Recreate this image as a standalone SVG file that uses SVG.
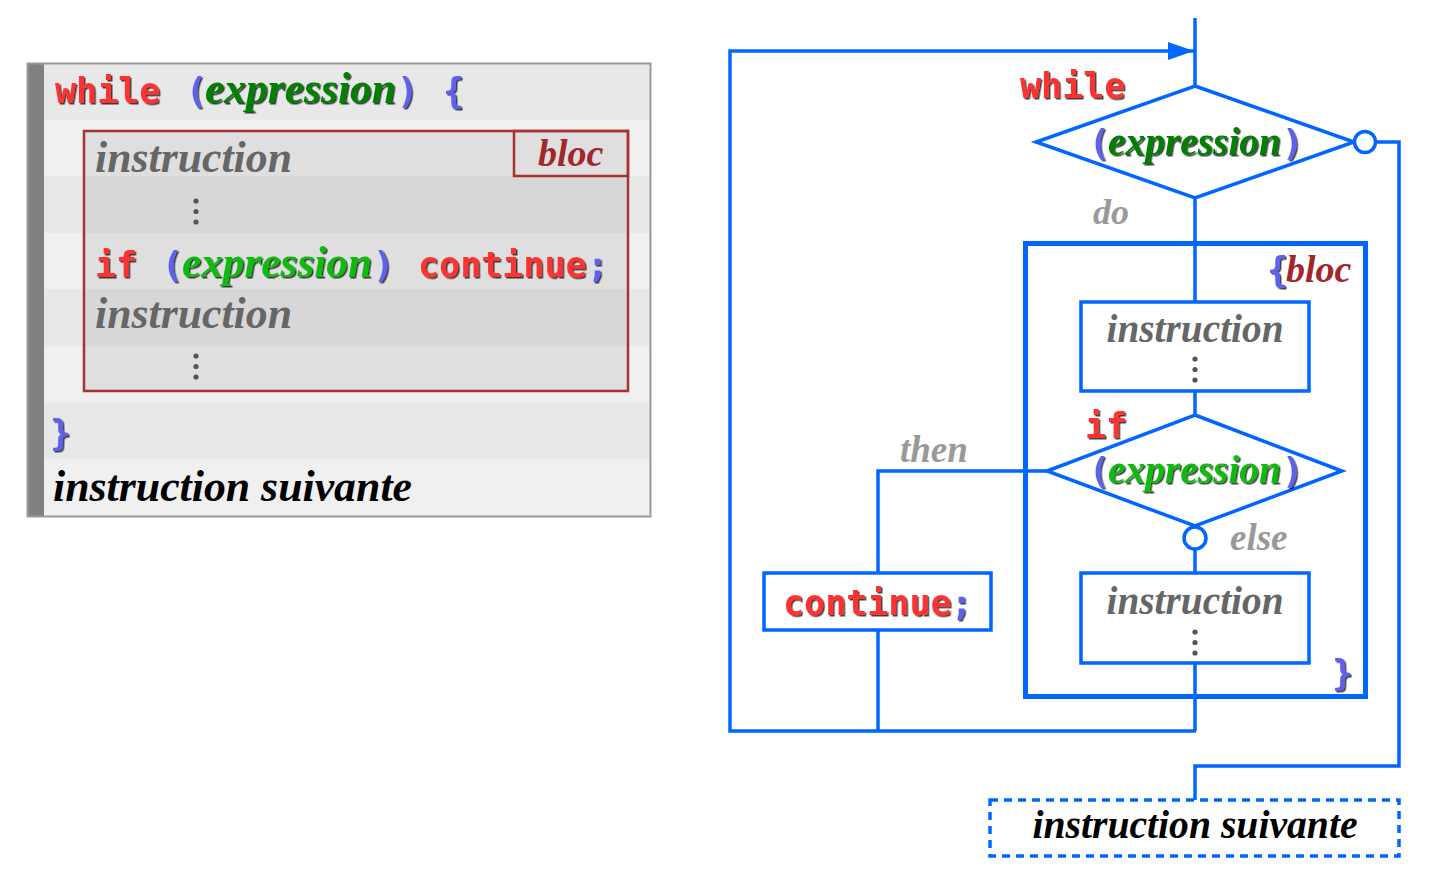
<svg xmlns="http://www.w3.org/2000/svg" width="1431" height="883" viewBox="0 0 1431 883">
<defs>
<style>
.mono{font-family:"DejaVu Sans Mono","Liberation Mono",monospace;font-weight:bold;font-size:35px}
.ser{font-family:"Liberation Serif","DejaVu Serif",serif;font-weight:bold;font-style:italic}
.kw{fill:#ff3333}
.pun{fill:#6060ee}
.exg{fill:#008000}
.exb{fill:#11bb11}
.ins{fill:#666666}
.lbl{fill:#999999}
.brc{fill:#a0282c}
.sh{filter:url(#shadow)}
.ln{fill:none;stroke:#0066ff;stroke-width:3.5}
.box{fill:#ffffff;stroke:#0066ff;stroke-width:3.5}
.dot{fill:#555555}
</style>
<filter id="shadow" x="-5%" y="-20%" width="110%" height="140%">
<feDropShadow dx="1.5" dy="1.5" stdDeviation="0.3" flood-color="#000" flood-opacity="0.75"/>
</filter>
<marker id="arr" viewBox="0 0 10 10" refX="10" refY="5" markerWidth="26" markerHeight="18" markerUnits="userSpaceOnUse" orient="auto" preserveAspectRatio="none">
<path d="M0,0 L10,5 L0,10 z" fill="#0066ff"/>
</marker>
<g id="vdots">
<circle cx="0" cy="0" r="2.6"/>
<circle cx="0" cy="10.5" r="2.6"/>
<circle cx="0" cy="21" r="2.6"/>
</g>
</defs>
<rect width="1431" height="883" fill="#ffffff"/>

<!-- Left code panel -->
<g id="code-panel">
<rect x="44" y="63" width="607" height="57" fill="#e8e8e8"/>
<rect x="44" y="120" width="607" height="56" fill="#f0f0f0"/>
<rect x="44" y="176" width="607" height="57" fill="#e8e8e8"/>
<rect x="44" y="233" width="607" height="56" fill="#f0f0f0"/>
<rect x="44" y="289" width="607" height="57" fill="#e8e8e8"/>
<rect x="44" y="346" width="607" height="56" fill="#f0f0f0"/>
<rect x="44" y="402" width="607" height="57" fill="#e8e8e8"/>
<rect x="44" y="459" width="607" height="58" fill="#f0f0f0"/>
<rect x="27" y="63" width="17" height="454" fill="#808080"/>
<rect x="27.5" y="63.5" width="623" height="453" fill="none" stroke="#999999" stroke-width="2"/>
</g>
<g id="code-bloc">
<rect x="84" y="131" width="544" height="260" fill="#000000" fill-opacity="0.07" stroke="#a83232" stroke-width="2.5"/>
<rect x="514" y="131" width="114" height="45" fill="none" stroke="#a83232" stroke-width="2.5"/>
<text x="538" y="166" class="ser brc" font-size="38">bloc</text>
</g>
<g id="code-text">
<text x="55" y="103" class="mono kw sh">while</text>
<text x="186" y="103" class="mono pun sh">(</text>
<text x="205" y="103" class="ser exg sh" font-size="44" textLength="191" lengthAdjust="spacingAndGlyphs">expression</text>
<text x="397" y="103" class="mono pun sh">)</text>
<text x="443" y="103" class="mono pun sh">{</text>
<text x="95" y="172" class="ser ins" font-size="44" textLength="197" lengthAdjust="spacingAndGlyphs">instruction</text>
<use href="#vdots" x="196" y="201" class="dot"/>
<text x="95" y="277" class="mono kw sh">if</text>
<text x="162" y="277" class="mono pun sh">(</text>
<text x="182" y="277" class="ser exb sh" font-size="44" textLength="190" lengthAdjust="spacingAndGlyphs">expression</text>
<text x="373" y="277" class="mono pun sh">)</text>
<text x="418" y="277" class="mono kw sh">continue</text>
<text x="587" y="277" class="mono pun sh">;</text>
<text x="95" y="328" class="ser ins" font-size="44" textLength="197" lengthAdjust="spacingAndGlyphs">instruction</text>
<use href="#vdots" x="196" y="356" class="dot"/>
<text x="50" y="445" class="mono pun sh">}</text>
<text x="53" y="501" class="ser" font-size="44" fill="#000000" textLength="359" lengthAdjust="spacingAndGlyphs">instruction suivante</text>
</g>

<!-- Flowchart connectors -->
<g id="connectors">
<line x1="1195" y1="18" x2="1195" y2="86" class="ln"/>
<polyline points="1196,731 730,731 730,51 1194,51" class="ln" marker-end="url(#arr)"/>
<line x1="1195" y1="198" x2="1195" y2="302" class="ln"/>
<line x1="1195" y1="391" x2="1195" y2="415" class="ln"/>
<line x1="1195" y1="549" x2="1195" y2="573" class="ln"/>
<line x1="1195" y1="663" x2="1195" y2="731" class="ln"/>
<polyline points="1047,471 878,471 878,573" class="ln"/>
<line x1="878" y1="630" x2="878" y2="731" class="ln"/>
<polyline points="1375,142 1399,142 1399,766 1195,766 1195,800" class="ln"/>
</g>

<g id="bloc-frame">
<rect x="1025.5" y="243.5" width="340" height="453" fill="none" stroke="#0066ff" stroke-width="5"/>
<text x="1267" y="282" class="mono pun sh">{</text>
<text x="1286" y="282" class="ser brc" font-size="38">bloc</text>
<text x="1332" y="685" class="mono pun sh">}</text>
</g>

<g id="while-cond">
<polygon points="1195,86 1354,142 1195,198 1036,142" class="box"/>
<circle cx="1365" cy="142" r="10.5" class="box"/>
<text x="1020" y="98" class="mono kw sh">while</text>
<text x="1089" y="155" class="mono pun sh">(</text>
<text x="1108" y="155" class="ser exg sh" font-size="40" textLength="173" lengthAdjust="spacingAndGlyphs">expression</text>
<text x="1282" y="155" class="mono pun sh">)</text>
<text x="1093" y="224" class="ser lbl" font-size="36">do</text>
</g>

<g id="instr1">
<rect x="1081" y="302" width="228" height="89" class="box"/>
<text x="1195" y="342" class="ser ins" font-size="40" text-anchor="middle" textLength="177" lengthAdjust="spacingAndGlyphs">instruction</text>
<use href="#vdots" x="1195" y="359" class="dot"/>
</g>

<g id="if-cond">
<polygon points="1195,415 1342,471 1195,526 1047,471" class="box"/>
<circle cx="1195" cy="538" r="11" class="box"/>
<text x="1085" y="438" class="mono kw sh">if</text>
<text x="1089" y="483" class="mono pun sh">(</text>
<text x="1108" y="483" class="ser exb sh" font-size="40" textLength="173" lengthAdjust="spacingAndGlyphs">expression</text>
<text x="1282" y="483" class="mono pun sh">)</text>
<text x="900" y="462" class="ser lbl" font-size="37">then</text>
<text x="1230" y="550" class="ser lbl" font-size="37">else</text>
</g>

<g id="continue">
<rect x="764" y="573" width="227" height="57" class="box"/>
<text x="783" y="615" class="mono kw sh">continue</text>
<text x="951" y="615" class="mono pun sh">;</text>
</g>

<g id="instr2">
<rect x="1081" y="573" width="228" height="90" class="box"/>
<text x="1195" y="614" class="ser ins" font-size="40" text-anchor="middle" textLength="177" lengthAdjust="spacingAndGlyphs">instruction</text>
<use href="#vdots" x="1195" y="632" class="dot"/>
</g>

<g id="next-instr">
<rect x="990" y="800" width="409" height="56" fill="#ffffff" stroke="#0066ff" stroke-width="3.5" stroke-dasharray="8,6"/>
<text x="1195" y="838" class="ser" font-size="40" fill="#000000" text-anchor="middle" textLength="325" lengthAdjust="spacingAndGlyphs">instruction suivante</text>
</g>
</svg>
